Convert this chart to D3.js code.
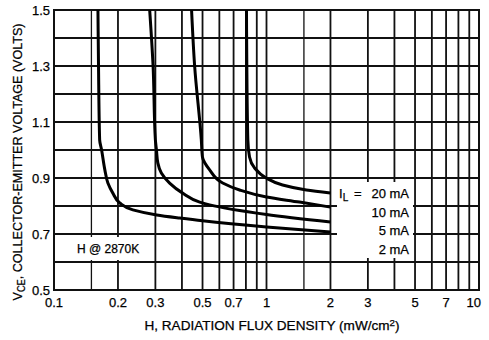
<!DOCTYPE html>
<html lang="en">
  <head>
    <meta charset="UTF-8" />
    <title>VCE vs H</title>
    <script src="https://d3js.org/d3.v7.min.js"></script>
    <style>
      body { margin: 0; background: #fff; }
      text { font-family: "Liberation Sans Narrow", "Liberation Sans", Arial, sans-serif; fill: #000; stroke: #000; stroke-width: 0.25px; }
    </style>
  </head>
  <body>
    <script>
      // data: [flux mW/cm2, volts]
      const curve2mA = [[0.161, 1.5], [0.162, 1.3], [0.164, 1.036], [0.1675, 1.0], [0.1735, 0.929], [0.1793, 0.882],
        [0.1892, 0.846], [0.204, 0.811], [0.235, 0.786], [0.3045, 0.768], [0.39, 0.757], [0.5, 0.747],
        [1.0, 0.725], [2, 0.707]];
      const curve5mA = [[0.282, 1.5], [0.2926, 1.3], [0.30, 1.036], [0.3035, 1.0], [0.308, 0.954], [0.32, 0.918],
        [0.35, 0.882], [0.403, 0.846], [0.485, 0.814], [0.54, 0.804], [1.0, 0.77], [2, 0.743]];
      const curve10mA = [[0.444, 1.5], [0.459, 1.3], [0.4935, 1.036], [0.4995, 0.975], [0.54, 0.929], [0.622, 0.882],
        [0.747, 0.857], [1.0, 0.832], [1.43, 0.814], [2, 0.796]];
      const curve20mA = [[0.805, 1.5], [0.808, 1.3], [0.817, 1.036], [0.832, 0.975], [0.878, 0.936], [0.997, 0.9],
        [1.19, 0.875], [1.54, 0.857], [2, 0.846]];
      const curves = [curve2mA, curve5mA, curve10mA, curve20mA];
      const legendLabels = ["20 mA", "10 mA", "5 mA", "2 mA"];

      const fluxGrid = [0.15, 0.2, 0.3, 0.4, 0.5, 0.6, 0.7, 0.8, 0.9, 1, 1.5, 2, 3, 4, 5, 6, 7, 8, 9];
      const voltGrid = [0.6, 0.7, 0.8, 0.9, 1.0, 1.1, 1.2, 1.3, 1.4];
      const fluxTicks = [0.1, 0.2, 0.3, 0.5, 0.7, 1, 2, 3, 5, 7, 10];
      const fluxTickText = ["0.1", "0.2", "0.3", "0.5", "0.7", "1", "2", "3", "5", "7", "10"];
      const voltTicks = [0.5, 0.7, 0.9, 1.1, 1.3, 1.5];

      const width = 489, height = 340;
      const mLeft = 54, mRight = 479, mTop = 10, mBottom = 290;

      const svg = d3.select("body").append("svg")
        .attr("width", width).attr("height", height);
      svg.append("rect").attr("width", width).attr("height", height).attr("fill", "#fff");

      const x = d3.scaleLog().domain([0.1, 10]).range([mLeft, mRight]);
      const y = d3.scaleLinear().domain([0.5, 1.5]).range([mBottom, mTop]);

      // grid
      const grid = svg.append("g").attr("stroke", "#111");
      grid.selectAll(".vg").data(fluxGrid).join("line")
        .attr("x1", d => x(d)).attr("x2", d => x(d))
        .attr("y1", mTop).attr("y2", mBottom)
        .attr("stroke-width", d => (d === 0.15 || d === 1.5) ? 1.3 : 1.8);
      grid.selectAll(".hg").data(voltGrid).join("line")
        .attr("x1", mLeft).attr("x2", mRight)
        .attr("y1", d => y(d)).attr("y2", d => y(d))
        .attr("stroke-width", 1.8);

      // white boxes behind the notes
      svg.append("rect").attr("x", 337).attr("y", 182).attr("width", 76).attr("height", 76).attr("fill", "#fff");
      svg.append("rect").attr("x", 62).attr("y", 237).attr("width", 88).attr("height", 23).attr("fill", "#fff");

      // frame
      svg.append("rect").attr("x", mLeft).attr("y", mTop)
        .attr("width", mRight - mLeft).attr("height", mBottom - mTop)
        .attr("fill", "none").attr("stroke", "#111").attr("stroke-width", 2);

      svg.append("clipPath").attr("id", "plot").append("rect")
        .attr("x", mLeft).attr("y", mTop).attr("width", mRight - mLeft).attr("height", mBottom - mTop);

      const line = d3.line()
        .x(d => x(d[0])).y(d => y(d[1]))
        .curve(d3.curveMonotoneY);

      svg.append("g").attr("clip-path", "url(#plot)")
        .selectAll("path").data(curves).join("path")
        .attr("d", line)
        .attr("fill", "none").attr("stroke", "#000").attr("stroke-width", 3)
        .attr("stroke-linejoin", "round");

      // tick labels
      svg.append("g").selectAll("text").data(fluxTicks).join("text")
        .attr("x", d => x(d)).attr("y", 307)
        .attr("text-anchor", (d, i) => i === fluxTicks.length - 1 ? "end" : "middle")
        .attr("dx", (d, i) => i === fluxTicks.length - 1 ? 2 : 0)
        .style("font-size", "13px")
        .text((d, i) => fluxTickText[i]);

      svg.append("g").selectAll("text").data(voltTicks).join("text")
        .attr("x", 50).attr("y", d => y(d)).attr("dy", "0.35em")
        .attr("text-anchor", "end")
        .style("font-size", "13px")
        .text(d => d.toFixed(1));

      // legend
      const lg = svg.append("g").style("font-size", "13px");
      lg.selectAll("text.lab").data(legendLabels).join("text")
        .attr("x", 409).attr("y", (d, i) => 198 + i * 18.5)
        .attr("text-anchor", "end")
        .text(d => d);
      const il = lg.append("text").attr("x", 339).attr("y", 198);
      il.append("tspan").text("I");
      il.append("tspan").attr("dy", 3).style("font-size", "10px").text("L");
      lg.append("text").attr("x", 354).attr("y", 198).text("=");

      svg.append("text").attr("x", 77).attr("y", 253)
        .style("font-size", "12px").text("H @ 2870K");

      // axis titles
      const xt = svg.append("text").attr("x", 272).attr("y", 330)
        .attr("text-anchor", "middle").style("font-size", "12.5px")
        .attr("textLength", 255).attr("lengthAdjust", "spacingAndGlyphs");
      xt.append("tspan").text("H, RADIATION FLUX DENSITY (mW/cm");
      xt.append("tspan").attr("dy", -4).style("font-size", "9px").text("2");
      xt.append("tspan").attr("dy", 4).text(")");

      const yt = svg.append("text")
        .attr("transform", "translate(22,162) rotate(-90)")
        .attr("text-anchor", "middle").style("font-size", "13.5px")
        .attr("textLength", 277).attr("lengthAdjust", "spacingAndGlyphs");
      yt.append("tspan").text("V");
      yt.append("tspan").attr("dy", 3).style("font-size", "10px").text("CE");
      yt.append("tspan").attr("dy", -3).text(", COLLECTOR-EMITTER VOLTAGE (VOLTS)");
    </script>
  </body>
</html>
